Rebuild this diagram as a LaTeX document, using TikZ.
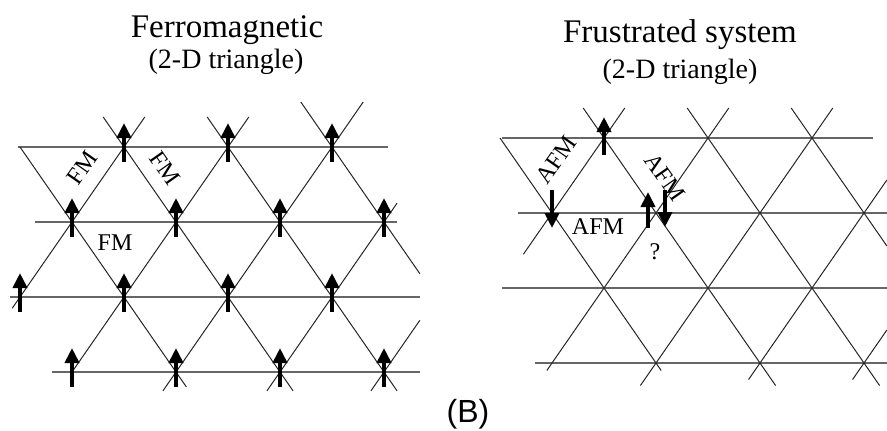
\documentclass[tikz,border=0pt]{standalone}
\usepackage{fontspec}
\setmainfont{Liberation Serif}
\newfontfamily\panelsans{Liberation Sans}
\usetikzlibrary{arrows.meta}

\begin{document}
\begin{tikzpicture}[
  x=1pt, y=-1pt,
  ttl/.style={font=\fontsize{33}{36}\selectfont, anchor=base, inner sep=0pt},
  sub/.style={font=\fontsize{28}{32}\selectfont, anchor=base, inner sep=0pt},
  lbl/.style={font=\fontsize{24}{26}\selectfont, inner sep=0pt},
  rowline/.style={line width=1.1pt, black!60},
  latline/.style={line width=1pt, black!85},
  spin/.style={line width=4pt, -{Triangle[length=15pt,width=14pt]}},
]
\useasboundingbox[fill=white] (0,0) rectangle (887,431);
% titles
\node[ttl] (fmtitle) at (227,37) {Ferromagnetic};
\node[sub] (fmsub) at (226,68) {(2-D triangle)};
\node[ttl] (frtitle) at (680,42) {Frustrated system};
\node[sub] (frsub) at (680,78) {(2-D triangle)};
% ferromagnetic lattice
\begin{scope}[shift={(20,147)}, x=52pt, y=-75pt]
  \foreach \j/\a/\b in {0/-0.04/7.08, 1/0.29/7.25, 2/-0.19/7.69, 3/0.62/7.69}
    \draw[rowline] (\a,\j) -- (\b,\j);
  \foreach \c/\a/\b in {0/0/3.2, 2/-0.4/3.25, 4/-0.4/3.25, 6/-0.6/1.69}
    \draw[latline] ({\c+\a},\a) -- ({\c+\b},\b);
  \foreach \c/\a/\b in {2/-0.4/2.15, 4/-0.4/3, 6/-0.6/3.25, 8/0.75/3.25, 10/2.31/3.25}
    \draw[latline] ({\c-\a},\a) -- ({\c-\b},\b);
  % spins, all up
  \foreach \k/\j in {2/0,4/0,6/0, 1/1,3/1,5/1,7/1, 0/2,2/2,4/2,6/2, 1/3,3/3,5/3,7/3}
    \draw[spin] (\k,\j) ++(0pt,-15pt) -- ++(0pt,39pt);
\end{scope}
% frustrated lattice
\begin{scope}[shift={(500,138)}, x=52pt, y=-75pt]
  \foreach \j/\a/\b in {0/0.04/7.17, 1/0.35/7.44, 2/0.04/7.44, 3/0.67/7.44}
    \draw[rowline] (\a,\j) -- (\b,\j);
  \foreach \c/\a/\b in {0/0/3.1, 2/-0.4/3.3, 4/-0.4/3.3, 6/-0.4/1.44}
    \draw[latline] ({\c+\a},\a) -- ({\c+\b},\b);
  \foreach \c/\a/\b in {2/-0.4/1.55, 4/-0.4/3.1, 6/-0.4/3.3, 8/0.56/3.22, 10/2.56/3.22}
    \draw[latline] ({\c-\a},\a) -- ({\c-\b},\b);
  % spins
  \draw[spin] (2,0) ++(0pt,-17pt) -- ++(0pt,38pt);
  \draw[spin] (1,1) ++(0pt,23pt) -- ++(0pt,-38pt);
  \draw[spin] (3,1) ++(-8pt,-15pt) -- ++(0pt,36pt);
  \draw[spin] (3,1) ++(9pt,23pt) -- ++(0pt,-37pt);
\end{scope}
% labels
\node[lbl, rotate=55] (fm1) at (82,168) {FM};
\node[lbl, rotate=-55] (fm2) at (165,168) {FM};
\node[lbl] (fm3) at (115,243) {FM};
\node[lbl, rotate=55] (afm1) at (556,160) {AFM};
\node[lbl, rotate=-55] (afm2) at (665,177) {AFM};
\node[lbl] (afm3) at (598,227) {AFM};
\node[lbl] (qmark) at (655,252) {?};
\node[font=\panelsans\fontsize{32}{34}\selectfont, inner sep=0pt] (panel) at (468,414) {(B)};
\end{tikzpicture}
\end{document}
